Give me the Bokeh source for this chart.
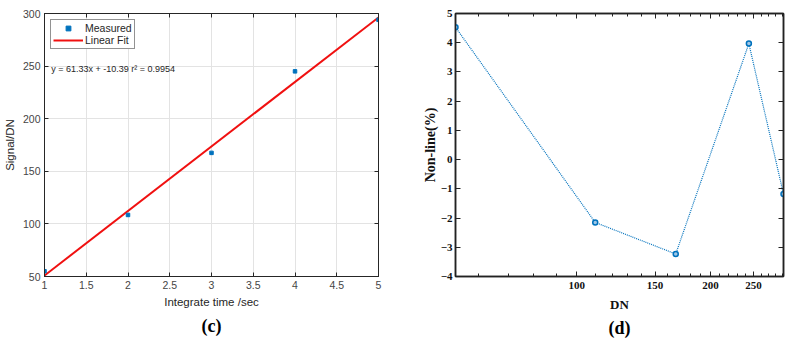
from bokeh.plotting import figure
from bokeh.layouts import row
from bokeh.models import (Legend, LegendItem, Label, Title, LinearAxis, LogAxis,
                          FixedTicker, NumeralTickFormatter, CustomJSTickFormatter)
from bokeh.embed import file_html
from bokeh.resources import INLINE

# ---- data: panel (c) ----
int_time = [1, 2, 3, 4, 5]
signal_measured = [55, 108.5, 167.5, 245, 294]
fit_time = [1, 5]
fit_signal = [50.94, 296.26]
fit_text = "y = 61.33x + -10.39  r\u00b2 = 0.9954"
x_ticks_c = [1, 1.5, 2, 2.5, 3, 3.5, 4, 4.5, 5]
y_ticks_c = [50, 100, 150, 200, 250, 300]

# ---- data: panel (d) ----
dn = [53.3, 110, 167, 244, 292]
nonline = [4.53, -2.15, -3.23, 3.97, -1.18]
x_ticks_d = [100, 150, 200, 250]
x_minor_d = [60, 70, 80, 90, 110, 120, 130, 140, 160, 170, 180, 190,
             210, 220, 230, 240, 260, 270, 280, 290]
y_ticks_d = [-4, -3, -2, -1, 0, 1, 2, 3, 4, 5]

SANS = "Liberation Sans"
SERIF = "Liberation Serif"
FRAME_C = "#262626"
BLUE = "#0072BD"


def mirror(ax):
    ax.formatter = CustomJSTickFormatter(code="return ''")
    ax.major_label_text_font_size = "0px"
    ax.major_label_standoff = 0
    ax.axis_label_standoff = 0
    ax.major_tick_out = 0
    ax.minor_tick_out = 0
    return ax


# ================= panel (c) =================
p1 = figure(width=395, height=344, x_range=(1, 5), y_range=(50, 300),
            output_backend="svg", toolbar_location=None,
            min_border_left=43, min_border_right=17, min_border_top=13,
            min_border_bottom=68)
p1.outline_line_color = FRAME_C
p1.outline_line_width = 1

p1.xaxis.ticker = FixedTicker(ticks=x_ticks_c)
p1.yaxis.ticker = FixedTicker(ticks=y_ticks_c)
p1.xaxis.formatter = NumeralTickFormatter(format="0.[0]")
for ax in (p1.xaxis[0], p1.yaxis[0]):
    ax.major_tick_in = 4
    ax.major_tick_out = 0
    ax.minor_tick_line_color = None
    ax.axis_line_color = FRAME_C
    ax.major_tick_line_color = FRAME_C
    ax.major_label_text_font = SANS
    ax.major_label_text_font_size = "10.5px"
    ax.major_label_text_color = "#454545"
    ax.axis_label_text_font = SANS
    ax.axis_label_text_font_size = "11.5px"
    ax.axis_label_text_font_style = "normal"
    ax.axis_label_text_color = "#262626"
    ax.major_label_standoff = 4
    ax.axis_label_standoff = 4
p1.xaxis.axis_label = "Integrate time /sec"
p1.yaxis.axis_label = "Signal/DN"

for side, tk in (("right", y_ticks_c), ("above", x_ticks_c)):
    a = mirror(LinearAxis(ticker=FixedTicker(ticks=tk)))
    a.major_tick_in = 4
    a.minor_tick_line_color = None
    a.axis_line_color = FRAME_C
    a.major_tick_line_color = FRAME_C
    p1.add_layout(a, side)

p1.xgrid.ticker = FixedTicker(ticks=x_ticks_c)
p1.ygrid.ticker = FixedTicker(ticks=y_ticks_c)
p1.grid.grid_line_color = "#e3e3e3"
p1.grid.grid_line_width = 1

r_line = p1.line(fit_time, fit_signal, color="#F01010", line_width=2)
r_pts = p1.scatter(int_time, signal_measured, marker="square", size=3.5,
                   color=BLUE)

legend = Legend(items=[LegendItem(label="Measured", renderers=[r_pts]),
                       LegendItem(label="Linear Fit", renderers=[r_line])],
                location="top_left")
legend.margin = 6
legend.padding = 2
legend.spacing = 0
legend.glyph_width = 30
legend.glyph_height = 12
legend.label_standoff = 2
legend.label_text_font = SANS
legend.label_text_font_size = "10.5px"
legend.label_text_color = "#262626"
legend.label_height = 12
legend.border_line_color = FRAME_C
legend.border_line_width = 1
p1.add_layout(legend)

p1.add_layout(Label(x=1.08, y=247, text=fit_text, text_font=SANS,
                    text_font_size="9px", text_baseline="middle",
                    text_color="#262626"))

p1.add_layout(Title(text="(c)", align="center", text_font=SERIF,
                    text_font_size="18px", text_font_style="bold",
                    text_color="black", standoff=6), "below")

# ================= panel (d) =================
p2 = figure(width=396, height=344, x_axis_type="log",
            x_range=(dn[0], dn[-1]), y_range=(-4, 5),
            output_backend="svg", toolbar_location=None,
            min_border_left=60, min_border_right=8, min_border_top=13,
            min_border_bottom=60)
p2.outline_line_color = "#222222"
p2.outline_line_width = 1.5
p2.grid.grid_line_color = None

p2.xaxis.ticker = FixedTicker(ticks=x_ticks_d, minor_ticks=x_minor_d)
p2.yaxis.ticker = FixedTicker(ticks=y_ticks_d)
p2.xaxis.formatter = NumeralTickFormatter(format="0")
for ax in (p2.xaxis[0], p2.yaxis[0]):
    ax.major_tick_in = 5
    ax.major_tick_out = 0
    ax.minor_tick_in = 3
    ax.minor_tick_out = 0
    ax.axis_line_color = "#222222"
    ax.axis_line_width = 1.5
    ax.major_tick_line_color = "#222222"
    ax.minor_tick_line_color = "#222222"
    ax.major_label_text_font = SERIF
    ax.major_label_text_font_size = "11px"
    ax.major_label_text_font_style = "bold"
    ax.major_label_text_color = "#111111"
    ax.axis_label_text_font = SERIF
    ax.axis_label_text_font_size = "13px"
    ax.axis_label_text_font_style = "bold"
    ax.axis_label_text_color = "#111111"
    ax.major_label_standoff = 5
    ax.axis_label_standoff = 5
p2.yaxis.minor_tick_line_color = None
p2.yaxis.major_label_standoff = 3
p2.yaxis.axis_label_standoff = 0
p2.yaxis.axis_label_text_font_size = "14px"
p2.xaxis.axis_label = "DN"
p2.yaxis.axis_label = "Non-line(%)"

a = mirror(LogAxis(ticker=FixedTicker(ticks=x_ticks_d, minor_ticks=x_minor_d)))
a2 = mirror(LinearAxis(ticker=FixedTicker(ticks=y_ticks_d)))
for ax, side in ((a, "above"), (a2, "right")):
    ax.major_tick_in = 5
    ax.minor_tick_in = 3
    ax.axis_line_color = "#222222"
    ax.axis_line_width = 1.5
    ax.major_tick_line_color = "#222222"
    ax.minor_tick_line_color = "#222222"
    p2.add_layout(ax, side)
a2.minor_tick_line_color = None

p2.line(dn, nonline, color=BLUE, line_width=1.2, line_dash="1 1")
p2.scatter(dn, nonline, marker="circle", size=5, line_color=BLUE,
           line_width=1.5, fill_color="#9fc6e6")

p2.add_layout(Title(text="(d)", align="center", text_font=SERIF,
                    text_font_size="18px", text_font_style="bold",
                    text_color="black", standoff=2), "below")

layout = row(p1, p2)
open("out.html", "w").write(file_html(layout, INLINE))
